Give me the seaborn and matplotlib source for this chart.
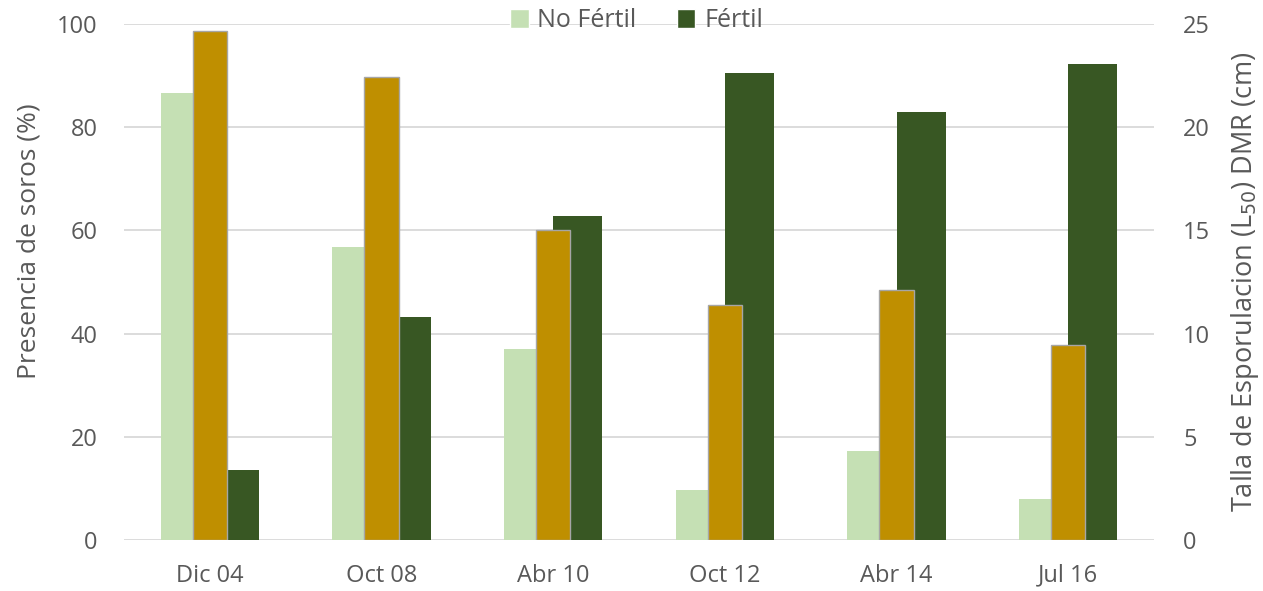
import matplotlib
matplotlib.use("Agg")
import matplotlib.pyplot as plt
import seaborn as sns
import pandas as pd
from matplotlib.patches import Patch

categories = ["Dic 04", "Oct 08", "Abr 10", "Oct 12", "Abr 14", "Jul 16"]
no_fertil = [86.6, 56.8, 37.0, 9.6, 17.3, 7.9]
fertil = [13.6, 43.2, 62.8, 90.5, 82.9, 92.2]
talla_l50 = [24.65, 22.45, 15.0, 11.4, 12.1, 9.45]

series_names = ["No Fértil", "Fértil"]
col_light = "#c5e0b4"
col_dark = "#385723"
col_gold = "#bf8f00"
txt = "#595959"

sns.set_theme(style="white")
plt.rcParams["font.family"] = ["Open Sans", "DejaVu Sans"]

df = pd.DataFrame({
    "cat": categories * 2,
    "serie": [series_names[0]] * len(categories) + [series_names[1]] * len(categories),
    "val": no_fertil + fertil,
})
df2 = pd.DataFrame({"cat": categories, "talla": talla_l50})

fig = plt.figure(figsize=(12.63, 5.91), dpi=100)
ax = fig.add_axes([124 / 1263, 51 / 591, 1030 / 1263, 516 / 591])

sns.barplot(data=df, x="cat", y="val", hue="serie", order=categories,
            hue_order=series_names, palette=[col_light, col_dark],
            width=0.572, saturation=1, linewidth=0, ax=ax, legend=False)
ax.set_ylim(0, 100)
ax.set_yticks([0, 20, 40, 60, 80, 100])
ax.grid(axis="y", color="#d9d9d9", linewidth=1.3)
ax.set_axisbelow(True)
for s in ax.spines.values():
    s.set_visible(False)
ax.set_xlabel("")
ax.set_ylabel("Presencia de soros (%)", fontsize=19, color=txt)
ax.yaxis.set_label_coords(-0.08, 0.579)
ax.tick_params(axis="both", colors=txt, labelsize=17, length=0)
ax.tick_params(axis="x", pad=17)
ax.tick_params(axis="y", pad=19)

ax2 = ax.twinx()
sns.barplot(data=df2, x="cat", y="talla", order=categories, color=col_gold,
            width=0.2, saturation=1, edgecolor="#a6a6a6", linewidth=1.0, ax=ax2)
ax2.set_ylim(0, 25)
ax2.set_yticks([0, 5, 10, 15, 20, 25])
ax2.set_xlim(-0.5, len(categories) - 0.5)
ax.set_xlim(-0.5, len(categories) - 0.5)
for s in ax2.spines.values():
    s.set_visible(False)
ax2.grid(False)
ax2.set_xlabel("")
ax2.set_ylabel("Talla de Esporulacion (L$_{50}$) DMR (cm)", fontsize=19.5,
               color=txt)
ax2.yaxis.set_label_coords(1.073, 0.5)
ax2.tick_params(axis="y", colors=txt, labelsize=17, length=0, pad=21)

handles = [Patch(facecolor=col_light, label=series_names[0]),
           Patch(facecolor=col_dark, label=series_names[1])]
fig.legend(handles=handles, loc="center", bbox_to_anchor=(0.504, 0.965),
           ncol=2, frameon=False, fontsize=18, labelcolor=txt,
           handlelength=0.75, handleheight=0.75, handletextpad=0.35,
           columnspacing=1.6)

fig.savefig("out.png", dpi=100)
